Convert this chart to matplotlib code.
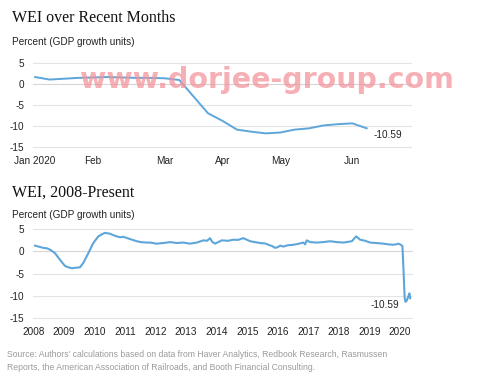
import numpy as np
import pandas as pd
import matplotlib
matplotlib.use("Agg")
import matplotlib.pyplot as plt

# ==========================================================
# DATA
# ==========================================================

# weekly WEI, recent months (week ending dates)
recent_dates = pd.date_range("2020-01-04", "2020-06-13", freq="7D")
recent_wei = [
    1.7, 1.1, 1.3, 1.5, 1.6, 1.7, 1.6, 1.5, 1.5, 1.4,
    1.0, -3.0, -7.0, -8.8, -10.9, -11.4, -11.8, -11.6,
    -10.9, -10.6, -9.9, -9.6, -9.4, -10.59,
]
recent_tick_dates = ["2020-01-04", "2020-02-01", "2020-03-07",
                     "2020-04-04", "2020-05-02", "2020-06-06"]
recent_tick_labels = ["Jan 2020", "Feb", "Mar", "Apr", "May", "Jun"]

# long history (year fraction, value)
hist_years = [
    2008.056, 2008.219, 2008.327, 2008.448, 2008.546, 2008.710, 2008.874,
    2009.037, 2009.145, 2009.266, 2009.397, 2009.528, 2009.636, 2009.800,
    2009.963, 2010.127, 2010.248, 2010.346, 2010.510, 2010.608, 2010.729,
    2010.837, 2010.945, 2011.163, 2011.384, 2011.524, 2011.711, 2011.819,
    2012.038, 2012.254, 2012.473, 2012.692, 2012.908, 2013.127, 2013.347,
    2013.563, 2013.684, 2013.782, 2013.848, 2013.946, 2014.165, 2014.371,
    2014.545, 2014.699, 2014.872, 2015.092, 2015.255, 2015.419, 2015.583,
    2015.690, 2015.812, 2015.910, 2016.008, 2016.073, 2016.181, 2016.335,
    2016.508, 2016.662, 2016.835, 2016.891, 2016.946, 2017.054, 2017.274,
    2017.480, 2017.709, 2017.938, 2018.144, 2018.419, 2018.560, 2018.691,
    2018.855, 2019.018, 2019.214, 2019.453, 2019.607, 2019.764, 2019.869,
    2019.944, 2020.022, 2020.075, 2020.114, 2020.147, 2020.173, 2020.212,
    2020.261, 2020.304, 2020.327,
]
hist_wei = [
    1.3, 1.0, 0.8, 0.7, 0.4, -0.4, -1.9,
    -3.3, -3.6, -3.8, -3.7, -3.6, -2.6, -0.4,
    1.9, 3.4, 3.9, 4.2, 4.0, 3.7, 3.4,
    3.2, 3.3, 2.8, 2.3, 2.1, 2.0, 2.0,
    1.75, 1.9, 2.1, 1.9, 2.0, 1.75, 2.0,
    2.5, 2.4, 3.0, 2.2, 1.75, 2.5, 2.4,
    2.65, 2.6, 3.0, 2.3, 2.1, 1.9, 1.8,
    1.5, 1.2, 0.8, 1.0, 1.3, 1.1, 1.4,
    1.5, 1.7, 2.0, 1.6, 2.5, 2.1, 2.0,
    2.1, 2.3, 2.1, 2.0, 2.3, 3.4, 2.65,
    2.4, 2.0, 1.9, 1.75, 1.6, 1.5, 1.6,
    1.75, 1.5, 1.2, -5.0, -10.5, -11.4, -11.2,
    -10.3, -9.5, -10.59,
]
hist_tick_years = list(range(2008, 2021))

y_ticks = [5, 0, -5, -10, -15]
last_value = "-10.59"

source_text = ("Source: Authors' calculations based on data from Haver Analytics, "
               "Redbook Research, Rasmussen\nReports, the American Association of "
               "Railroads, and Booth Financial Consulting.")

# ==========================================================
# STYLE
# ==========================================================

LINE = "#5ea6da"
GRID = "#e4e4e4"
TXT = "#222222"
SANS = "Liberation Sans"
SERIF = "Liberation Serif"

fig = plt.figure(figsize=(4.8, 3.8), dpi=100)


def px_x(v):
    return v / 480


def px_y(v):
    return 1 - v / 380


def style_axes(ax):
    for s in ax.spines.values():
        s.set_visible(False)
    ax.set_ylim(-15.5, 5.5)
    ax.set_yticks(y_ticks)
    ax.set_yticklabels([str(t) for t in y_ticks], fontfamily=SANS,
                       fontsize=7.2, color=TXT)
    ax.tick_params(axis="y", length=0, pad=6)
    ax.tick_params(axis="x", length=0, pad=5, labelsize=7.2, colors=TXT)
    for t in y_ticks:
        ax.axhline(t, color=GRID if t != 0 else "#d6d6d6",
                   linewidth=0.8, zorder=0)


# ==========================================================
# TOP PANEL
# ==========================================================

fig.text(px_x(12), px_y(22), "WEI over Recent Months", fontfamily=SERIF,
         fontsize=11.5, color="#111111", va="baseline")
fig.text(px_x(12), px_y(42), "Percent (GDP growth units)", fontfamily=SANS,
         fontsize=7.2, color=TXT, va="center")

ax1 = fig.add_axes([px_x(33), px_y(148.8), px_x(379), (148.8 - 61.2) / 380])
style_axes(ax1)
ax1.plot(recent_dates, recent_wei, color=LINE, linewidth=1.4)
ax1.set_xlim(pd.Timestamp("2020-01-03"), pd.Timestamp("2020-07-05"))
ax1.set_xticks(pd.to_datetime(recent_tick_dates))
ax1.set_xticklabels(recent_tick_labels, fontfamily=SANS)
ax1.annotate(last_value, (recent_dates[-1], recent_wei[-1]),
             xytext=(5, -5), textcoords="offset points",
             fontfamily=SANS, fontsize=7.2, color=TXT, va="center")

# ==========================================================
# BOTTOM PANEL
# ==========================================================

fig.text(px_x(12), px_y(197), "WEI, 2008-Present", fontfamily=SERIF,
         fontsize=11.5, color="#111111", va="baseline")
fig.text(px_x(12), px_y(214.5), "Percent (GDP growth units)", fontfamily=SANS,
         fontsize=7.2, color=TXT, va="center")

ax2 = fig.add_axes([px_x(33), px_y(319.9), px_x(380), (319.9 - 227.1) / 380])
style_axes(ax2)
ax2.plot(hist_years, hist_wei, color=LINE, linewidth=1.5)
ax2.set_xlim(2007.99, 2020.42)
ax2.set_xticks(hist_tick_years)
ax2.set_xticklabels([str(y) for y in hist_tick_years], fontfamily=SANS)
ax2.annotate(last_value, (hist_years[-1], hist_wei[-1]),
             xytext=(-8, -5), textcoords="offset points",
             fontfamily=SANS, fontsize=7.2, color=TXT, ha="right", va="center")

# ==========================================================
# SOURCE + WATERMARK
# ==========================================================

fig.text(px_x(7), px_y(361), source_text, fontfamily=SANS, fontsize=6.2,
         color="#9a9a9a", va="center", linespacing=1.5)

fig.text(px_x(267), px_y(80), "www.dorjee-group.com", fontfamily="DejaVu Sans",
         fontsize=20.5, fontweight="bold", color="#f3949b", alpha=0.75,
         ha="center", va="center")

fig.savefig("out.png", dpi=100)
